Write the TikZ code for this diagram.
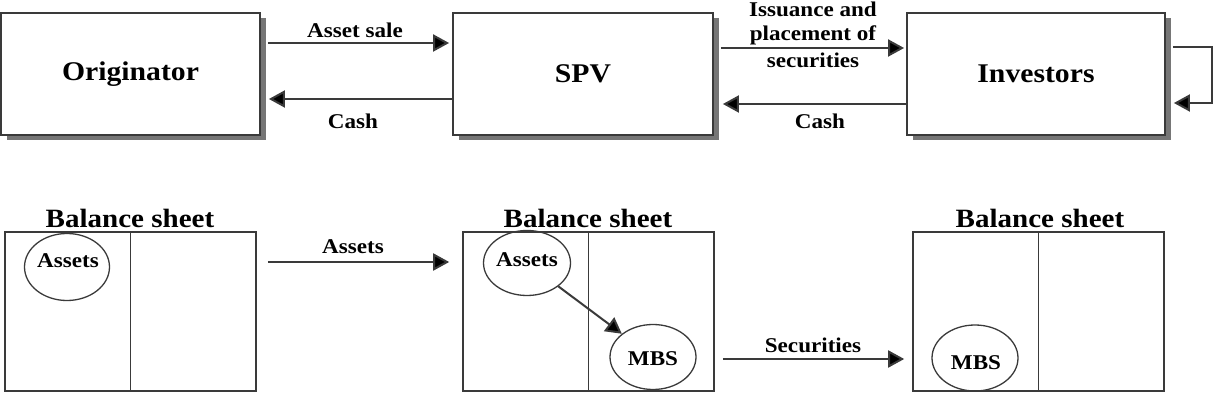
\documentclass[tikz,border=0pt]{standalone}
\usepackage{fontspec}
\setmainfont{Liberation Serif}[FakeStretch=1.1]
\usetikzlibrary{arrows.meta,shadows,shapes.geometric}
\definecolor{edge}{HTML}{3A3A3A}
\definecolor{shade}{HTML}{767676}
\tikzset{
  bigbox/.style={draw=edge, line width=1.8pt, fill=white, rectangle, inner sep=0pt,
    minimum height=122pt,
    drop shadow={shadow xshift=5.5pt, shadow yshift=-5.5pt, fill=shade, opacity=1},
    font=\fontsize{27}{30}\selectfont\bfseries},
  sheet/.style={draw=edge, line width=1.6pt, rectangle, inner sep=0pt,
    minimum width=251pt, minimum height=159pt},
  oval/.style={draw=edge, line width=1.3pt, ellipse, inner sep=0pt},
  lbl/.style={font=\fontsize{21}{25}\selectfont\bfseries, inner sep=0pt, align=center},
  ttl/.style={font=\fontsize{26.4}{28}\selectfont\bfseries, inner sep=0pt},
  arr/.style={draw=edge, line width=2pt, -{Triangle[length=16pt,width=17pt,fill=black]}},
}
\begin{document}
\begin{tikzpicture}[x=1pt,y=-1pt]
\useasboundingbox (0,0) rectangle (1216,406);
% top row
\node[bigbox, minimum width=259pt] (orig) at (130.5,74) {Originator};
\node[bigbox, minimum width=260pt] (spv) at (583,74) {SPV};
\node[bigbox, minimum width=258pt] (inv) at (1036,74) {Investors};

\draw[arr] ([xshift=7pt,yshift=31pt]orig.east) -- ([xshift=-3pt,yshift=31pt]spv.west);
\draw[arr] ([yshift=-25pt]spv.west) -- ([xshift=8pt,yshift=-25pt]orig.east);
\draw[arr] ([xshift=7pt,yshift=26pt]spv.east) -- ([xshift=-2pt,yshift=26pt]inv.west);
\draw[arr] ([yshift=-30pt]inv.west) -- ([xshift=9pt,yshift=-30pt]spv.east);
\draw[arr] ([xshift=7pt,yshift=27pt]inv.east) -| ([xshift=46pt,yshift=-29pt]inv.east) -- ([xshift=8pt,yshift=-29pt]inv.east);

\node[lbl] (lsale) at (355,30) {Asset sale};
\node[lbl] (lcash1) at (353,121) {Cash};
\node[lbl] (liss) at (813,35) {Issuance and\\[-1pt]placement of\\[2pt]securities};
\node[lbl] (lcash2) at (820,121) {Cash};

% bottom row
\node[sheet] (bs1) at (130.5,311.5) {};
\node[sheet] (bs2) at (588.5,311.5) {};
\node[sheet] (bs3) at (1038.5,311.5) {};
\draw[draw=edge, line width=1.6pt] (bs1.north) -- (bs1.south);
\draw[draw=edge, line width=1.6pt] (bs2.north) -- (bs2.south);
\draw[draw=edge, line width=1.6pt] (bs3.north) -- (bs3.south);

\node[ttl] (t1) at (130,218) {Balance sheet};
\node[ttl] (t2) at (588,218) {Balance sheet};
\node[ttl] (t3) at (1040,218) {Balance sheet};

\node[oval, minimum width=85pt, minimum height=67pt] (a1) at (67,267) {};
\node[oval, minimum width=87pt, minimum height=65pt] (a2) at (527,263) {};
\node[oval, minimum width=86pt, minimum height=65pt] (m2) at (653,357) {};
\node[oval, minimum width=86pt, minimum height=66pt] (m3) at (975,358) {};
\node[lbl] (ta1) at (68,261) {Assets};
\node[lbl] (ta2) at (527,260) {Assets};
\node[lbl] (tm2) at (653,359) {MBS};
\node[lbl] (tm3) at (976,363) {MBS};

\draw[arr] (a2) -- (m2);
\draw[arr] ([xshift=11pt,yshift=49.5pt]bs1.east) -- ([xshift=-13pt,yshift=49.5pt]bs2.west);
\draw[arr] ([xshift=8pt,yshift=-47.5pt]bs2.east) -- ([xshift=-8pt,yshift=-47.5pt]bs3.west);

\node[lbl] (lassets) at (353,247) {Assets};
\node[lbl] (lsec) at (813,345) {Securities};
\end{tikzpicture}
\end{document}
